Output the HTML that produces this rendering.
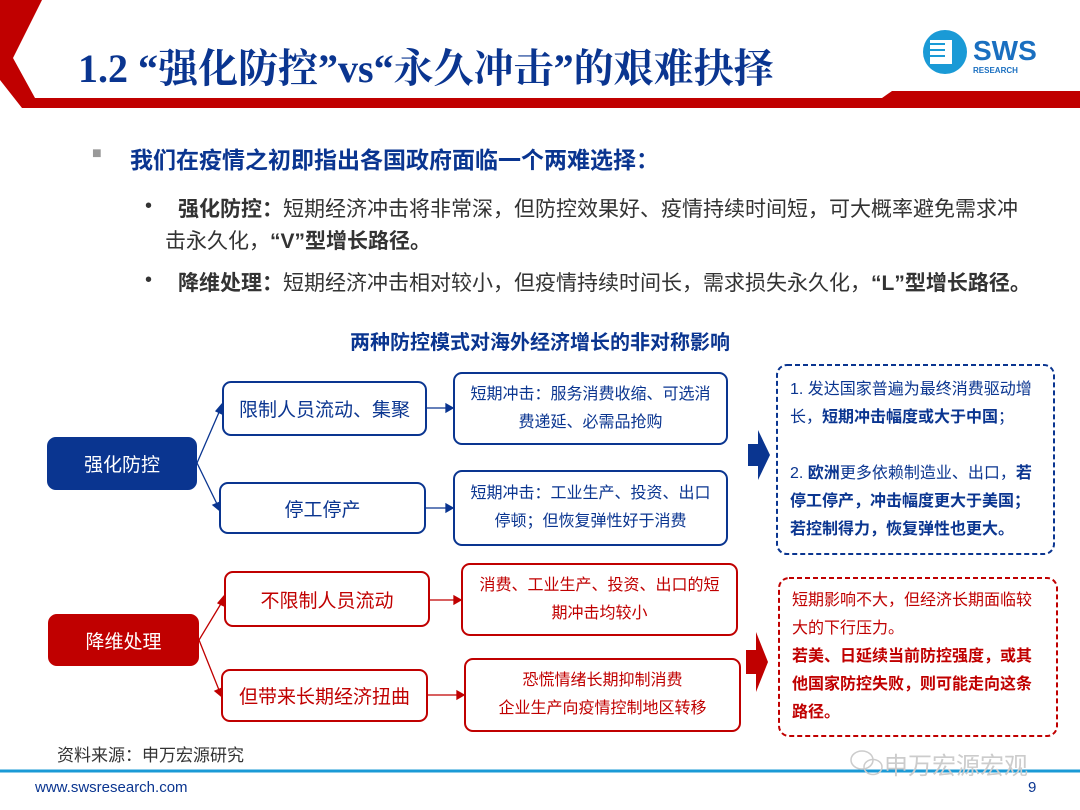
<!DOCTYPE html>
<html><head><meta charset="utf-8"><style>
body{margin:0;width:1080px;height:810px;position:relative;background:#fff;font-family:"Liberation Sans","Noto Sans CJK SC",sans-serif;overflow:hidden}
.a{position:absolute}
.box{position:absolute;box-sizing:border-box;border:2px solid #0a3590;border-radius:9px;display:flex;align-items:center;justify-content:center;text-align:center;color:#0a3590}
.r{border-color:#c00000;color:#c00000}
.t{font-size:19px}.s{font-size:16px;line-height:28px}
</style></head><body>
<svg class="a" style="left:0;top:0" width="1080" height="810">
<polygon points="0,0 42,0 13,58 35,98 882,98 892,91 1080,91 1080,108 22,108 0,80" fill="#c00000"/>
<line x1="0" y1="771" x2="1080" y2="771" stroke="#1a9ad6" stroke-width="3"/>
<g stroke="#0a3590" stroke-width="1.3" fill="#0a3590">
<line x1="197" y1="463" x2="220" y2="410"/><polygon points="222,404 222,414 216,411"/>
<line x1="197" y1="463" x2="217" y2="504"/><polygon points="219,510 213,505 220,502"/>
<line x1="427" y1="408" x2="446" y2="408"/><polygon points="453,408 446,404 446,412"/>
<line x1="426" y1="508" x2="446" y2="508"/><polygon points="453,508 446,504 446,512"/>
</g>
<g stroke="#c00000" stroke-width="1.3" fill="#c00000">
<line x1="199" y1="640" x2="222" y2="602"/><polygon points="224,596 224,606 218,603"/>
<line x1="199" y1="640" x2="219" y2="690"/><polygon points="221,696 215,691 222,688"/>
<line x1="430" y1="600" x2="454" y2="600"/><polygon points="461,600 454,596 454,604"/>
<line x1="428" y1="695" x2="457" y2="695"/><polygon points="464,695 457,691 457,699"/>
</g>
<polygon points="748,444 758,444 758,430 770,455 758,480 758,466 748,466" fill="#0a3590"/>
<polygon points="746,650 756,650 756,632 768,662 756,692 756,674 746,674" fill="#c00000"/>
<rect x="777" y="365" width="277" height="189" rx="10" fill="none" stroke="#0a3590" stroke-width="2" stroke-dasharray="5,3"/>
<rect x="779" y="578" width="278" height="158" rx="10" fill="none" stroke="#c00000" stroke-width="2" stroke-dasharray="5,3"/>
<circle cx="945" cy="52" r="22" fill="#1a9ad6"/><rect x="930" y="40" width="22" height="24" fill="#fff"/>
<g stroke="#1a9ad6" stroke-width="2"><line x1="930" y1="44" x2="945" y2="44"/><line x1="930" y1="50" x2="945" y2="50"/><line x1="930" y1="56" x2="945" y2="56"/></g>
<g fill="none" stroke="#ccc" stroke-width="1.5"><ellipse cx="862" cy="760" rx="11" ry="9"/><ellipse cx="873" cy="767" rx="9" ry="7.5"/></g>
</svg>
<div class="a" style="left:78px;top:37px;font-size:40px;font-weight:bold;color:#0a3590;font-family:'Liberation Serif','Noto Serif CJK SC',serif;white-space:nowrap">1.2 “强化防控”vs“永久冲击”的艰难抉择</div>
<div class="a" style="left:973px;top:35px;font-size:28px;font-weight:bold;color:#1a6fc0">SWS</div>
<div class="a" style="left:973px;top:66px;font-size:8px;font-weight:bold;color:#1a6fc0">RESEARCH</div>
<div class="a" style="left:92px;top:145px;font-size:16px;color:#999">■</div>
<div class="a" style="left:130px;top:141px;font-size:23px;font-weight:bold;color:#0a3590;white-space:nowrap">我们在疫情之初即指出各国政府面临一个两难选择：</div>
<div class="a" style="left:145px;top:195px;font-size:20px;color:#333">•</div>
<div class="a" style="left:178px;top:194px;font-size:21px;color:#333;line-height:32px;white-space:nowrap"><b>强化防控：</b>短期经济冲击将非常深，但防控效果好、疫情持续时间短，可大概率避免需求冲</div>
<div class="a" style="left:165px;top:226px;font-size:21px;color:#333;line-height:32px">击永久化，<b>“V”型增长路径。</b></div>
<div class="a" style="left:145px;top:269px;font-size:20px;color:#333">•</div>
<div class="a" style="left:178px;top:268px;font-size:21px;color:#333;line-height:32px;white-space:nowrap"><b>降维处理：</b>短期经济冲击相对较小，但疫情持续时间长，需求损失永久化，<b>“L”型增长路径。</b></div>
<div class="a" style="left:0;width:1080px;text-align:center;top:326px;font-size:20px;font-weight:bold;color:#0a3590">两种防控模式对海外经济增长的非对称影响</div>
<div class="box t" style="left:47px;top:437px;width:150px;height:53px;background:#0a3590;color:#fff">强化防控</div>
<div class="box t" style="left:222px;top:381px;width:205px;height:55px">限制人员流动、集聚</div>
<div class="box t" style="left:219px;top:482px;width:207px;height:52px">停工停产</div>
<div class="box s" style="left:453px;top:372px;width:275px;height:73px">短期冲击：服务消费收缩、可选消<br>费递延、必需品抢购</div>
<div class="box s" style="left:453px;top:470px;width:275px;height:76px">短期冲击：工业生产、投资、出口<br>停顿；但恢复弹性好于消费</div>
<div class="box t r" style="left:48px;top:614px;width:151px;height:52px;background:#c00000;color:#fff">降维处理</div>
<div class="box t r" style="left:224px;top:571px;width:206px;height:56px">不限制人员流动</div>
<div class="box t r" style="left:221px;top:669px;width:207px;height:53px">但带来长期经济扭曲</div>
<div class="box s r" style="left:461px;top:563px;width:277px;height:73px">消费、工业生产、投资、出口的短<br>期冲击均较小</div>
<div class="box s r" style="left:464px;top:658px;width:277px;height:74px">恐慌情绪长期抑制消费<br>企业生产向疫情控制地区转移</div>
<div class="a" style="left:790px;top:376px;width:252px;font-size:16px;line-height:28px;color:#0a3590">1. 发达国家普遍为最终消费驱动增长，<b>短期冲击幅度或大于中国</b>；<br><br>2. <b>欧洲</b>更多依赖制造业、出口，<b>若停工停产，冲击幅度更大于美国；若控制得力，恢复弹性也更大。</b></div>
<div class="a" style="left:792px;top:587px;width:246px;font-size:16px;line-height:28px;color:#c00000">短期影响不大，但经济长期面临较大的下行压力。<br><b>若美、日延续当前防控强度，或其他国家防控失败，则可能走向这条路径。</b></div>
<div class="a" style="left:57px;top:741px;font-size:17px;color:#333">资料来源：申万宏源研究</div>
<div class="a" style="left:884px;top:746px;font-size:24px;color:#ccc">申万宏源宏观</div>
<div class="a" style="left:35px;top:779px;font-size:15px;color:#0a3590">www.swsresearch.com</div>
<div class="a" style="left:1028px;top:779px;font-size:15px;color:#0a3590">9</div>
</body></html>
